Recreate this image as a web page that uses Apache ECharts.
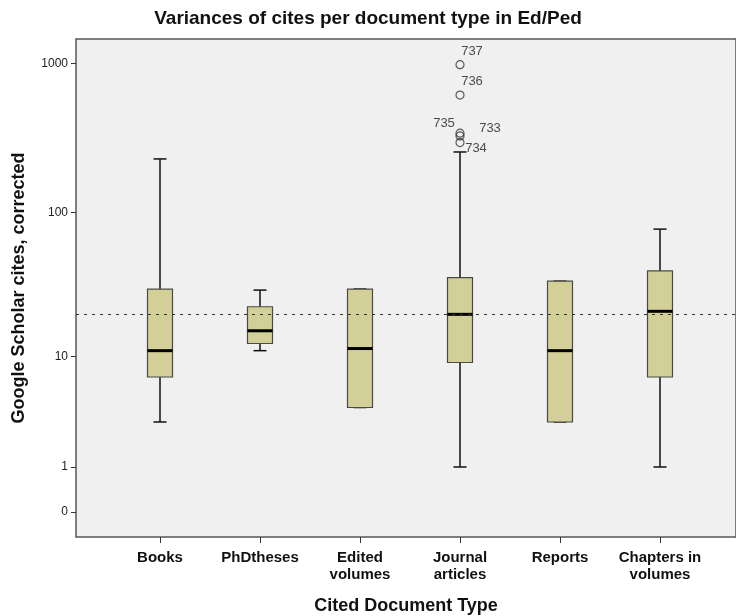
<!DOCTYPE html>
<html>
<head>
<meta charset="utf-8">
<script src="https://cdn.jsdelivr.net/npm/echarts@6/dist/echarts.min.js"></script>
<style>
html,body{margin:0;padding:0;background:#fff;}
#chart{width:736px;height:616px;}
</style>
</head>
<body>
<div id="chart"></div>
<script>
// ---- data ----
const categories = ['Books', 'PhDtheses', 'Edited\nvolumes', 'Journal\narticles', 'Reports', 'Chapters in\nvolumes'];
const minValues    = [3, 11, 4, 1, 3, 1];
const q1Values     = [7, 12.4, 4, 9, 3, 7];
const medianValues = [11, 15.3, 11.4, 20, 11, 21];
const q3Values     = [30, 22.6, 30, 36, 34, 40];
const maxValues    = [229, 29.5, 30, 255, 34, 77];
const outlierCaseIds = ['737', '736', '735', '733', '734'];
const outlierValues  = [981, 614, 341, 327, 295];
const outlierCategoryIndex = 3;
const referenceValue = 20;
const yTickValues = [0, 1, 10, 100, 1000];

// the axis is log10(value + 1)
const tf = v => Math.log10(v + 1);
const untf = t => Math.pow(10, t) - 1;

const boxData = categories.map((c, i) => [i, tf(minValues[i]), tf(q1Values[i]), tf(medianValues[i]), tf(q3Values[i]), tf(maxValues[i])]);
const labelOffsets = [[12, -13], [12, -14], [-16, -10], [30, -7], [16, 6]];
const outlierData = outlierValues.map((v, k) => ({
  name: outlierCaseIds[k],
  value: [outlierCategoryIndex, tf(v)],
  label: { offset: labelOffsets[k] }
}));

const FONT = "'Liberation Sans', Arial, sans-serif";
const chart = echarts.init(document.getElementById('chart'), null, { renderer: 'canvas' });
chart.setOption({
  animation: false,
  backgroundColor: '#ffffff',
  title: {
    text: 'Variances of cites per document type in Ed/Ped',
    left: 'center', top: 4,
    textStyle: { fontFamily: FONT, fontSize: 19, fontWeight: 'bold', color: '#111' }
  },
  grid: {
    left: 76, top: 39, right: 0, bottom: 79,
    outerBoundsMode: 'none',
    containLabel: false,
    show: true, backgroundColor: '#f0f0f0', borderColor: '#555', borderWidth: 1.5
  },
  xAxis: {
    type: 'value', min: -0.84, max: 5.76,
    name: 'Cited Document Type', nameLocation: 'middle', nameGap: 60,
    nameTextStyle: { fontFamily: FONT, fontSize: 18, fontWeight: 'bold', color: '#111' },
    splitLine: { show: false },
    axisLine: { show: false, onZero: false },
    axisTick: { show: true, length: 6, customValues: categories.map((c, i) => i), lineStyle: { color: '#333' } },
    axisLabel: {
      customValues: categories.map((c, i) => i),
      formatter: v => categories[Math.round(v)],
      fontFamily: FONT, fontSize: 15, fontWeight: 'bold', color: '#111',
      lineHeight: 17, margin: 12
    }
  },
  yAxis: {
    type: 'value', min: -0.1672, max: 3.1639,
    name: 'Google Scholar cites, corrected', nameLocation: 'middle', nameGap: 48,
    nameTextStyle: { fontFamily: FONT, fontSize: 18, fontWeight: 'bold', color: '#111' },
    splitLine: { show: false },
    axisLine: { show: false, onZero: false },
    axisTick: { show: true, length: 5, customValues: yTickValues.map(tf), lineStyle: { color: '#333' } },
    axisLabel: {
      customValues: yTickValues.map(tf),
      formatter: t => String(Math.round(untf(t))),
      fontFamily: FONT, fontSize: 12, color: '#222', margin: 8
    }
  },
  series: [
    {
      type: 'custom',
      data: boxData,
      encode: { x: 0, y: [1, 2, 3, 4, 5] },
      z: 2,
      renderItem: function (params, api) {
        const x = api.value(0);
        const lo = api.coord([x, api.value(1)]);
        const q1 = api.coord([x, api.value(2)]);
        const md = api.coord([x, api.value(3)]);
        const q3 = api.coord([x, api.value(4)]);
        const hi = api.coord([x, api.value(5)]);
        const bw = api.size([0.25, 0])[0];
        const cw = api.size([0.13, 0])[0];
        const wStyle = { stroke: '#111', lineWidth: 1.5 };
        return {
          type: 'group',
          children: [
            { type: 'line', shape: { x1: lo[0], y1: lo[1], x2: q1[0], y2: q1[1] }, style: wStyle },
            { type: 'line', shape: { x1: q3[0], y1: q3[1], x2: hi[0], y2: hi[1] }, style: wStyle },
            { type: 'line', shape: { x1: lo[0] - cw / 2, y1: lo[1], x2: lo[0] + cw / 2, y2: lo[1] }, style: wStyle },
            { type: 'line', shape: { x1: hi[0] - cw / 2, y1: hi[1], x2: hi[0] + cw / 2, y2: hi[1] }, style: wStyle },
            { type: 'rect', shape: { x: q3[0] - bw / 2, y: q3[1], width: bw, height: q1[1] - q3[1] },
              style: { fill: '#d3cf98', stroke: '#4a4a44', lineWidth: 1.2 } },
            { type: 'line', shape: { x1: md[0] - bw / 2, y1: md[1], x2: md[0] + bw / 2, y2: md[1] },
              style: { stroke: '#000', lineWidth: 3 } }
          ]
        };
      }
    },
    {
      type: 'scatter',
      z: 5,
      data: outlierData,
      symbol: 'circle',
      symbolSize: 8,
      itemStyle: { color: 'rgba(0,0,0,0)', borderColor: '#333', borderWidth: 1.2 },
      label: {
        show: true, position: 'inside', formatter: '{b}',
        fontFamily: FONT, fontSize: 13, color: '#222'
      },
      markLine: {
        silent: true,
        symbol: 'none',
        label: { show: false },
        lineStyle: { color: '#333', width: 1.2, type: [3, 5] },
        data: [{ yAxis: tf(referenceValue) }]
      }
    }
  ]
});
</script>
</body>
</html>
